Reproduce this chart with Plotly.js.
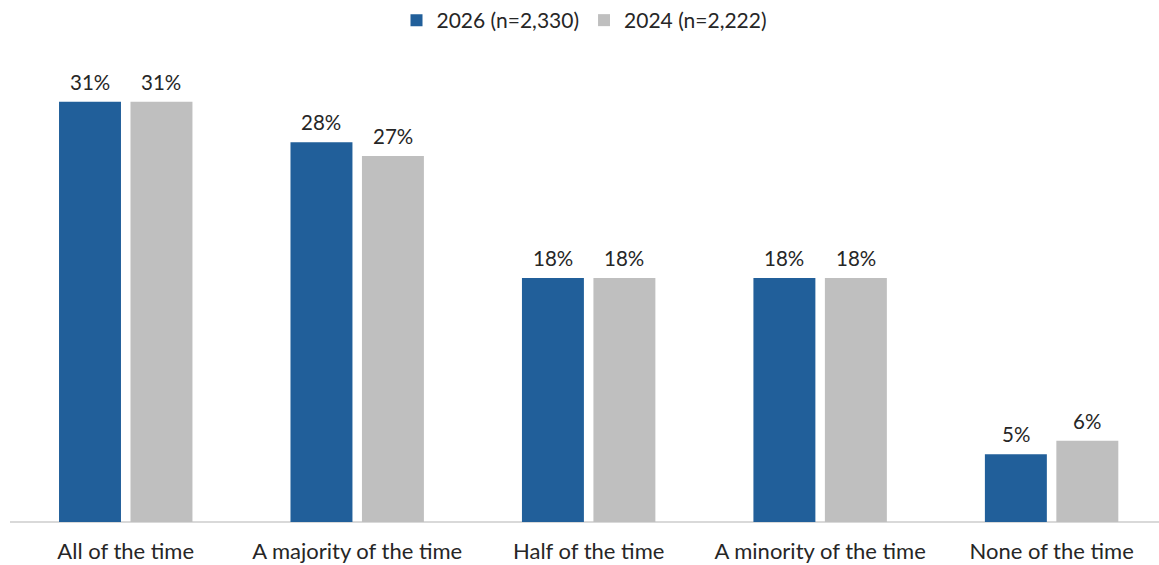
<!DOCTYPE html>
<html>
<head>
<meta charset="utf-8">
<script src="https://cdn.plot.ly/plotly-3.0.1.min.js"></script>
<style>
  html, body { margin: 0; padding: 0; background: #fff; }
  #chart { width: 1159px; height: 565px; }
</style>
</head>
<body>
<div id="chart"></div>
<script>
// Share of time, by survey year
const categories = ["All of the time", "A majority of the time", "Half of the time", "A minority of the time", "None of the time"];
const values2026 = [31, 28, 18, 18, 5];
const values2024 = [31, 27, 18, 18, 6];
const seriesNames = ["2026 (n=2,330)", "2024 (n=2,222)"];

const FONT = "Lato, 'Open Sans', sans-serif";
const textColor = "#262626";

// x offset of each bar from its category centre, in pixels
const BAR_OFFSET = 35.75;

function barTrace(name, vals, color) {
  return {
    type: "bar",
    name: name,
    x: categories,
    y: vals,
    marker: { color: color },
    hoverinfo: "skip"
  };
}

const data = [
  barTrace(seriesNames[0], values2026, "#215f9a"),
  barTrace(seriesNames[1], values2024, "#bfbfbf")
];

// value labels above each bar
function valueLabels(vals, shift) {
  return vals.map((v, i) => ({
    x: categories[i],
    y: v,
    xref: "x",
    yref: "y",
    text: v + "%",
    showarrow: false,
    xanchor: "center",
    yanchor: "bottom",
    xshift: shift,
    yshift: 6,
    font: { family: FONT, size: 20.5, color: textColor }
  }));
}

const layout = {
  width: 1159,
  height: 565,
  margin: { l: 9.5, r: 0, t: 61, b: 43, pad: 0 },
  paper_bgcolor: "#ffffff",
  plot_bgcolor: "#ffffff",
  barmode: "group",
  bargap: 0.3825,
  bargroupgap: 0.133,
  showlegend: true,
  legend: {
    orientation: "h",
    x: 0.5, xanchor: "center",
    y: 1.0, yref: "container", yanchor: "top",
    font: { family: FONT, size: 21, color: textColor },
    traceorder: "normal"
  },
  xaxis: {
    type: "category",
    range: [-0.5, 4.464],
    showgrid: false,
    zeroline: false,
    showline: false,
    ticks: "",
    ticklabelstandoff: 14,
    tickfont: { family: FONT, size: 22, color: textColor },
    fixedrange: true
  },
  yaxis: {
    range: [0, 34],
    showgrid: false,
    zeroline: true,
    zerolinecolor: "#d9d9d9",
    zerolinewidth: 1.5,
    showline: false,
    showticklabels: false,
    ticks: "",
    fixedrange: true
  },
  annotations: valueLabels(values2026, -BAR_OFFSET).concat(valueLabels(values2024, BAR_OFFSET))
};

Plotly.newPlot("chart", data, layout, { displayModeBar: false, staticPlot: true });
</script>
</body>
</html>
